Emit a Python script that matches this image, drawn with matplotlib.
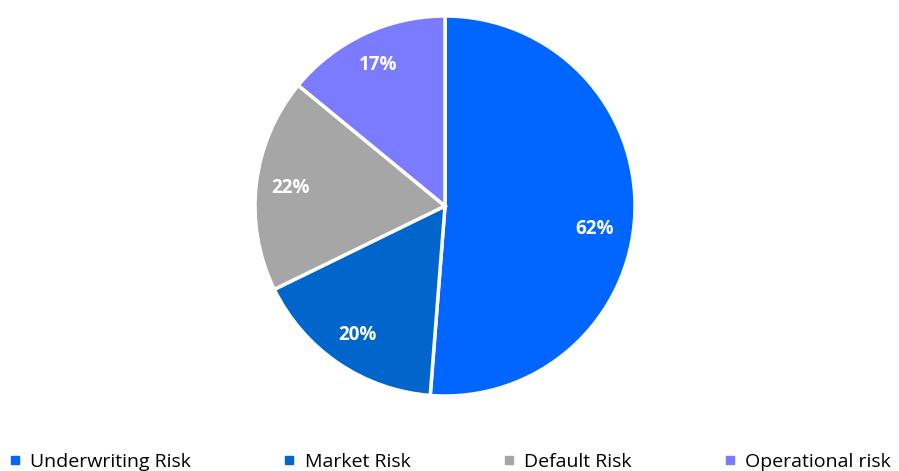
import matplotlib
matplotlib.use('Agg')
import matplotlib.pyplot as plt
from matplotlib.lines import Line2D

plt.rcParams['font.family'] = ['Open Sans', 'DejaVu Sans']

# Data
categories = ['Underwriting Risk', 'Market Risk', 'Default Risk', 'Operational risk']
values = [62, 20, 22, 17]
pct_labels = ['62%', '20%', '22%', '17%']
colors = ['#0066FF', '#0066CC', '#A6A6A6', '#7B7BFF']

fig = plt.figure(figsize=(8.99, 4.71), dpi=100)

# pie axes placed so the circle sits where it does in the reference
cx, cy, r = 445 / 899, 1 - 206 / 471, 190
ax = fig.add_axes([cx - r / 899, cy - r / 471, 2 * r / 899, 2 * r / 471])

wedges, texts = ax.pie(values, labels=pct_labels, colors=colors, startangle=90,
                       counterclock=False, labeldistance=0.82,
                       wedgeprops={'edgecolor': 'white', 'linewidth': 2.5})
for t in texts:
    t.set_color('white')
    t.set_fontweight('bold')
    t.set_fontsize(13.5)
    t.set_ha('center')
    t.set_va('center')
# the big slice label sits a little lower in the original
x0, y0 = texts[0].get_position()
texts[0].set_position((x0 - 0.03, y0 - 0.09))
ax.set_xlim(-1, 1)
ax.set_ylim(-1, 1)
ax.set_aspect('equal')
ax.axis('off')

handles = [Line2D([0], [0], marker='s', linestyle='none', markersize=6,
                  markerfacecolor=c, markeredgecolor=c) for c in colors]
fig.legend(handles, categories, loc='center', bbox_to_anchor=(0.5, 1 - 462 / 471),
           ncol=4, frameon=False, fontsize=14, handlelength=0.7,
           handletextpad=0.45, columnspacing=4.7, borderaxespad=0)

fig.savefig('out.png', dpi=100)
